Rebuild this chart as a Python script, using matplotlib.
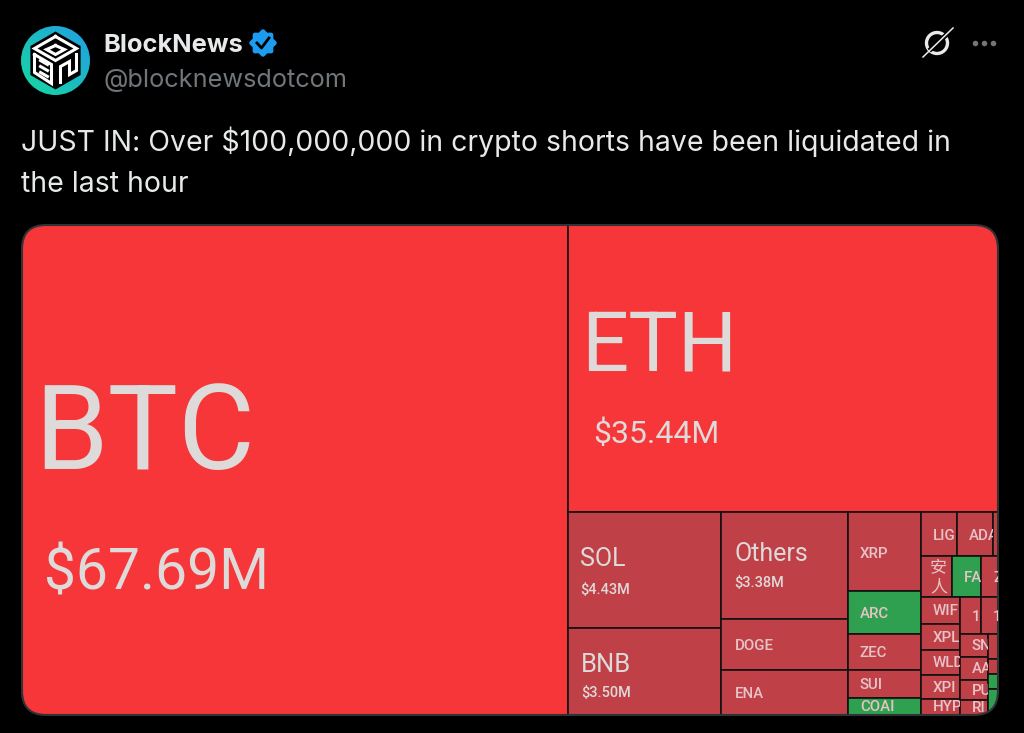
"""Screenshot of a BlockNews post with a liquidation treemap"""

import matplotlib

matplotlib.use("Agg")
import matplotlib.pyplot as plt
import numpy as np
from matplotlib.patches import Circle, FancyBboxPatch, Polygon, Rectangle

plt.rcParams["font.family"] = ["Roboto", "Noto Sans CJK SC", "DejaVu Sans"]

AUTHOR = "BlockNews"
HANDLE = "@blocknewsdotcom"
POST_LINES = [
    "JUST IN: Over $100,000,000 in crypto shorts have been liquidated in",
    "the last hour",
]

# cells of the treemap. sizes are what is visible in the screenshot ($M),
# the map runs past the crop so ETH shows less than its label says
NAMES = [
    "BTC", "ETH", "SOL", "BNB", "Others", "DOGE", "ENA",
    "XRP", "ARC", "ZEC", "SUI", "COAI",
    "LIG", "ADA", "",
    "安\n人", "FA", "Z",
    "WIF", "XPL", "WLD", "XPI", "HYP",
    "1", "1",
    "SN", "AA", "PU", "RI",
    "", "", "", "",
]
SIZES = [
    67.69, 31.23, 4.46, 3.35, 3.44, 1.64, 1.45,
    1.46, 0.79, 0.665, 0.517, 0.314,
    0.40, 0.40, 0.056,
    0.32, 0.30, 0.176,
    0.266, 0.257, 0.247, 0.237, 0.158,
    0.197, 0.159,
    0.163, 0.163, 0.142, 0.106,
    0.063, 0.038, 0.038, 0.066,
]
AMOUNTS = {"BTC": "$67.69M", "ETH": "$35.44M", "SOL": "$4.43M", "BNB": "$3.50M", "Others": "$3.38M"}
GAINERS = [8, 11, 16, 31, 32]  # green cells

# how the cells nest: "h" splits side by side, "v" stacks
TREE = ("h", [
    0,
    ("v", [
        1,
        ("h", [
            ("v", [2, 3]),
            ("v", [4, 5, 6]),
            ("v", [7, 8, 9, 10, 11]),
            ("v", [
                ("h", [12, 13, 14]),
                ("h", [15, 16, 17]),
                ("h", [
                    ("v", [18, 19, 20, 21, 22]),
                    ("v", [
                        ("h", [23, 24]),
                        ("h", [
                            ("v", [25, 26, 27, 28]),
                            ("v", [29, 30, 31, 32]),
                        ]),
                    ]),
                ]),
            ]),
        ]),
    ]),
])

RED = "#F63639"
DARK_RED = "#BF4046"
GREEN = "#2FA04F"
BIG_TEXT = "#DEDADA"
SMALL_TEXT = "#E6C3C6"

# text size (px), left inset (px), name and amount height as share of the cell
BIG_LABELS = {
    "BTC": (118, 12, 57, 22, 0.432, 0.712),
    "ETH": (83, 13, 32, 25, 0.425, 0.73),
    "SOL": (25, 12, 14.5, 12, 0.40, 0.668),
    "BNB": (25.5, 13, 14.5, 13, 0.42, 0.75),
    "Others": (25, 14, 14.5, 14, 0.395, 0.665),
}
INSET_14 = ["DOGE", "ENA"]


def node_size(node):
    if isinstance(node, int):
        return SIZES[node]
    return sum(node_size(child) for child in node[1])


def layout(node, x0, y0, x1, y1, out):
    """Fills out with cell index -> (x0, y0, x1, y1)"""
    if isinstance(node, int):
        out[node] = (x0, y0, x1, y1)
        return
    direction, children = node
    total = node_size(node)
    pos = x0 if direction == "h" else y0
    span = (x1 - x0) if direction == "h" else (y1 - y0)
    for child in children:
        step = span * node_size(child) / total
        if direction == "h":
            layout(child, pos, y0, pos + step, y1, out)
        else:
            layout(child, x0, pos, x1, pos + step, out)
        pos += step


def px(size):
    return size * 72 / 100


def draw_treemap(ax):
    left, top, right, bottom = 22, 225, 998, 715
    frame = FancyBboxPatch(
        (left + 20, top + 20), right - left - 40, bottom - top - 40,
        boxstyle="round,pad=20,rounding_size=24", fc="none", ec="none",
    )
    ax.add_patch(frame)

    cells = {}
    layout(TREE, left, top, right, bottom, cells)
    for i, name in enumerate(NAMES):
        x0, y0, x1, y1 = cells[i]
        color = RED if i < 2 else DARK_RED
        if i in GAINERS:
            color = GREEN
        rect = Rectangle((x0, y0), x1 - x0, y1 - y0, fc=color, ec="#111111", lw=1.2)
        ax.add_patch(rect)
        rect.set_clip_path(frame)

        if name in BIG_LABELS:
            size, inset, value_size, value_inset, name_y, value_y = BIG_LABELS[name]
            y_name = y0 + (y1 - y0) * name_y
            y_value = y0 + (y1 - y0) * value_y
            ax.text(x0 + inset, y_name, name, color=BIG_TEXT, fontsize=px(size), va="center")
            value_weight = "normal" if size > 50 else "medium"
            ax.text(x0 + value_inset, y_value, AMOUNTS[name], color=BIG_TEXT,
                    fontsize=px(value_size), va="center", fontweight=value_weight)
        elif name:
            y_name = min(y0 + (y1 - y0) * 0.53, 709)
            inset = 14 if name in INSET_14 else 12
            cjk = "\n" in name
            t = ax.text(x0 + inset - (3 if cjk else 0), y_name, name, color=SMALL_TEXT,
                        fontsize=px(17 if cjk else 15), va="center",
                        linespacing=1.25 if cjk else 1.2, clip_on=True, fontweight="medium")
            t.set_clip_path(Rectangle((x0, y0), x1 - x0, y1 - y0, transform=ax.transData))

    edge = FancyBboxPatch(
        (left + 20, top + 20), right - left - 40, bottom - top - 40,
        boxstyle="round,pad=20,rounding_size=24", fc="none", ec="#2F3336", lw=1.5,
    )
    ax.add_patch(edge)


def draw_avatar(ax):
    cx, cy, r = 55.5, 60.5, 34.5
    grad = np.linspace(0, 1, 64)
    xx, yy = np.meshgrid(grad, grad)
    mix = (xx + (1 - yy)) / 2
    img = np.zeros((64, 64, 3))
    for c, (a, b) in enumerate(zip((0.09, 0.85, 0.62), (0.13, 0.62, 0.90))):
        img[:, :, c] = a + (b - a) * mix
    im = ax.imshow(img, extent=(cx - r, cx + r, cy + r, cy - r), zorder=2, aspect="auto")
    im.set_clip_path(Circle((cx, cy), r, transform=ax.transData))

    angles = np.radians(np.arange(30, 390, 60))
    hexagon = np.column_stack([cx + 29 * np.cos(angles), cy + 29 * np.sin(angles)])
    ax.add_patch(Polygon(hexagon, fc="black", ec="none", zorder=3))

    strokes = [
        [(0, -24), (21, -12), (0, 0), (-21, -12), (0, -24)],
        [(0, -15), (9, -11), (0, -6), (-9, -11), (0, -15)],
        [(-21, -6), (-21, 12), (-4, 23), (-4, 4), (-21, -6)],
        [(-15, 0), (-8, 4)],
        [(-15, 6), (-8, 10)],
        [(-15, 12), (-8, 16)],
        [(5, 22), (5, 6), (14, 1), (14, 14), (21, 10), (21, -6)],
    ]
    for stroke in strokes:
        pts = np.array(stroke, dtype=float)
        ax.plot(cx + pts[:, 0], cy + pts[:, 1], color="white", lw=2.2, zorder=4,
                solid_joinstyle="miter")


def draw_header(ax):
    ax.text(103, 45, AUTHOR, color="#E7E9EA", fontsize=px(25.5), fontweight="bold", va="center",
            family="Inter")
    ax.text(103.5, 81, HANDLE, color="#71767B", fontsize=px(25.3), va="center", family="Inter")
    ax.text(21, 142, POST_LINES[0], color="#E7E9EA", fontsize=px(28.4), va="center", family="Inter")
    ax.text(21, 184, POST_LINES[1], color="#E7E9EA", fontsize=px(28.4), va="center", family="Inter")

    # verified badge
    theta = np.linspace(0, 2 * np.pi, 200)
    radius = 12.5 + 1.2 * np.cos(8 * theta)
    ax.add_patch(Polygon(np.column_stack([263 + radius * np.cos(theta), 43 + radius * np.sin(theta)]),
                         fc="#1D9BF0", ec="none"))
    ax.plot([257, 261.5, 269], [43, 48, 38], color="black", lw=2)

    # grok style icon and the three dots
    ax.add_patch(Circle((937, 43), 10.5, fc="none", ec="#E7E9EA", lw=2.4))
    ax.plot([931, 945], [49, 36], color="black", lw=3.5)
    ax.plot([923, 953], [57, 28], color="#E7E9EA", lw=1.1)
    ax.scatter([975, 984, 993], [43, 43, 43], s=16, color="#71767B", linewidths=0)


fig = plt.figure(figsize=(10.24, 7.33), dpi=100, facecolor="black")
ax = fig.add_axes([0, 0, 1, 1])
ax.set_facecolor("black")

draw_avatar(ax)
draw_header(ax)
draw_treemap(ax)

ax.set_xlim(0, 1024)
ax.set_ylim(733, 0)
ax.axis("off")

fig.savefig("out.png", dpi=100, facecolor="black")
